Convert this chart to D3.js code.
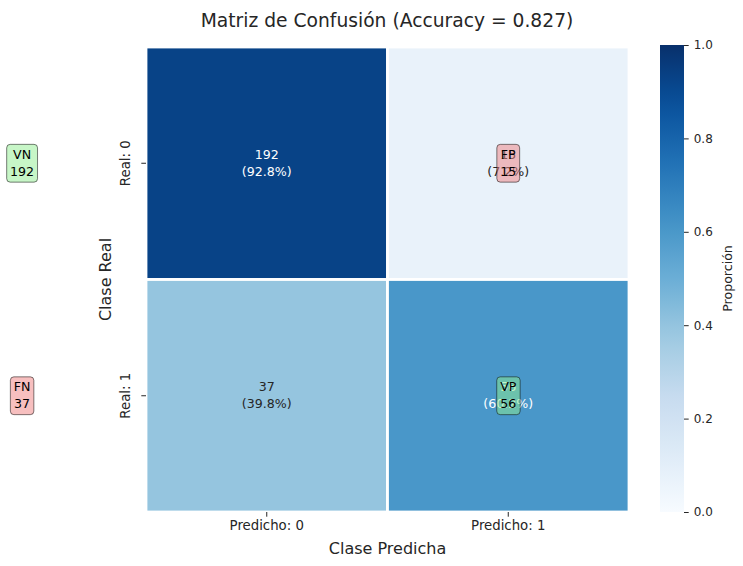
<!DOCTYPE html>
<html>
<head>
<meta charset="utf-8">
<script src="https://cdn.jsdelivr.net/npm/d3@7"></script>
<style>
  body { margin: 0; background: #fff; }
  svg { font-family: "DejaVu Sans", sans-serif; }
</style>
</head>
<body>
<div id="chart"></div>
<script>
const realLabels = ['Real: 0', 'Real: 1'];
const predLabels = ['Predicho: 0', 'Predicho: 1'];
const counts = [[192, 15], [37, 56]];
const quadrantNames = [['VN', 'FP'], ['FN', 'VP']];
const colorbarTicks = [0, 0.2, 0.4, 0.6, 0.8, 1.0];
// matplotlib "Blues"
const bluesStops = ['#f7fbff', '#deebf7', '#c6dbef', '#9ecae1', '#6baed6', '#4292c6', '#2171b5', '#08519c', '#08306b'];

const width = 743, height = 566;
const plot = { left: 146, top: 47, right: 629, bottom: 512 };
const FONT = 'DejaVu Sans';

const svg = d3.select('#chart').append('svg')
    .attr('width', width)
    .attr('height', height);

const color = d3.scaleLinear()
    .domain(d3.range(bluesStops.length).map(i => i / (bluesStops.length - 1)))
    .range(bluesStops)
    .interpolate(d3.interpolateRgb);

const x = d3.scaleBand().domain([0, 1]).range([plot.left, plot.right]);
const y = d3.scaleBand().domain([0, 1]).range([plot.top, plot.bottom]);

const cells = [];
counts.forEach((row, i) => {
    const total = d3.sum(row);
    row.forEach((v, j) => cells.push({ i, j, count: v, prop: v / total, name: quadrantNames[i][j] }));
});

const total = d3.sum(counts.flat());
const accuracy = (counts[0][0] + counts[1][1]) / total;

// cells
svg.append('g')
    .selectAll('rect')
    .data(cells)
    .join('rect')
    .attr('x', d => x(d.j))
    .attr('y', d => y(d.i))
    .attr('width', x.bandwidth())
    .attr('height', y.bandwidth())
    .attr('fill', d => color(d.prop))
    .attr('stroke', 'white')
    .attr('stroke-width', 2.8);

// cell annotations
const ann = svg.append('g')
    .selectAll('text')
    .data(cells)
    .join('text')
    .attr('text-anchor', 'middle')
    .attr('font-size', 12.6)
    .attr('fill', d => d.prop > 0.5 ? 'white' : '#262626');
ann.append('tspan')
    .attr('x', d => x(d.j) + x.bandwidth() / 2)
    .attr('y', d => y(d.i) + y.bandwidth() / 2 - 4.5)
    .text(d => d.count);
ann.append('tspan')
    .attr('x', d => x(d.j) + x.bandwidth() / 2)
    .attr('y', d => y(d.i) + y.bandwidth() / 2 + 12.5)
    .text(d => `(${(d.prop * 100).toFixed(1)}%)`);

// quadrant boxes (VN / FN drawn left of the axis, FP / VP over the cell)
const boxFill = { VN: '#90ee90', VP: '#90ee90', FN: '#f08080', FP: '#f08080' };
const boxes = svg.append('g')
    .selectAll('g')
    .data(cells)
    .join('g')
    .attr('transform', d => {
        const cx = d.j === 0 ? x(0) - x.bandwidth() * 0.513 : x(d.j) + x.bandwidth() / 2;
        const cy = y(d.i) + y.bandwidth() / 2;
        return `translate(${cx},${cy})`;
    });

boxes.each(function (d) {
    const g = d3.select(this);
    const t = g.append('text')
        .attr('text-anchor', 'middle')
        .attr('font-size', 12.6)
        .attr('fill', 'black');
    t.append('tspan').attr('x', 0).attr('y', -4.5).text(d.name);
    t.append('tspan').attr('x', 0).attr('y', 12.5).text(d.count);
    const bb = t.node().getBBox();
    const pad = 3.4;
    g.insert('rect', 'text')
        .attr('x', bb.x - pad)
        .attr('y', bb.y - pad + 1)
        .attr('width', bb.width + 2 * pad)
        .attr('height', bb.height + 2 * pad - 1)
        .attr('rx', 3.5)
        .attr('fill', boxFill[d.name])
        .attr('fill-opacity', 0.5)
        .attr('stroke', 'black')
        .attr('stroke-opacity', 0.5)
        .attr('stroke-width', 1);
});

// axes
const xAxis = svg.append('g')
    .attr('transform', `translate(0,${plot.bottom})`)
    .call(d3.axisBottom(x).tickSize(4.7).tickPadding(4.2).tickFormat(d => predLabels[d]));
xAxis.select('.domain').remove();
xAxis.selectAll('text').attr('font-size', 13.3).attr('fill', '#262626').attr('font-family', FONT);
xAxis.selectAll('line').attr('stroke', '#262626');

const yAxis = svg.append('g')
    .attr('transform', `translate(${plot.left},0)`)
    .call(d3.axisLeft(y).tickSize(4.7).tickPadding(0).tickFormat(d => realLabels[d]));
yAxis.select('.domain').remove();
yAxis.selectAll('line').attr('stroke', '#262626');
yAxis.selectAll('text')
    .attr('font-size', 13.3)
    .attr('fill', '#262626')
    .attr('font-family', FONT)
    .attr('text-anchor', 'middle')
    .attr('x', 0)
    .attr('dy', '0.35em')
    .attr('transform', 'translate(-21,0) rotate(-90)');

svg.append('text')
    .attr('x', (plot.left + plot.right) / 2)
    .attr('y', 554)
    .attr('text-anchor', 'middle')
    .attr('font-size', 16)
    .attr('fill', '#262626')
    .text('Clase Predicha');

svg.append('text')
    .attr('transform', `translate(111,${(plot.top + plot.bottom) / 2}) rotate(-90)`)
    .attr('text-anchor', 'middle')
    .attr('font-size', 16)
    .attr('fill', '#262626')
    .text('Clase Real');

svg.append('text')
    .attr('x', 387)
    .attr('y', 26.5)
    .attr('text-anchor', 'middle')
    .attr('font-size', 18.7)
    .attr('fill', '#262626')
    .text(`Matriz de Confusión (Accuracy = ${accuracy.toFixed(3)})`);

// colorbar
const cb = { left: 660, width: 24, top: 45, bottom: 512 };
const grad = svg.append('defs').append('linearGradient')
    .attr('id', 'cbgrad')
    .attr('x1', 0).attr('y1', 1).attr('x2', 0).attr('y2', 0);
grad.selectAll('stop')
    .data(d3.range(0, 1.0001, 0.05))
    .join('stop')
    .attr('offset', d => d)
    .attr('stop-color', d => color(d));

svg.append('rect')
    .attr('x', cb.left)
    .attr('y', cb.top)
    .attr('width', cb.width)
    .attr('height', cb.bottom - cb.top)
    .attr('fill', 'url(#cbgrad)');

const cbScale = d3.scaleLinear().domain([0, 1]).range([cb.bottom, cb.top]);
const cbAxis = svg.append('g')
    .attr('transform', `translate(${cb.left + cb.width},0)`)
    .call(d3.axisRight(cbScale).tickValues(colorbarTicks).tickSize(4.7).tickPadding(5).tickFormat(d3.format('.1f')));
cbAxis.select('.domain').remove();
cbAxis.selectAll('line').attr('stroke', '#262626');
cbAxis.selectAll('text').attr('font-size', 12).attr('fill', '#262626').attr('font-family', FONT);

svg.append('text')
    .attr('transform', `translate(732,${(cb.top + cb.bottom) / 2}) rotate(-90)`)
    .attr('text-anchor', 'middle')
    .attr('font-size', 12.6)
    .attr('fill', '#262626')
    .text('Proporción');
</script>
</body>
</html>
